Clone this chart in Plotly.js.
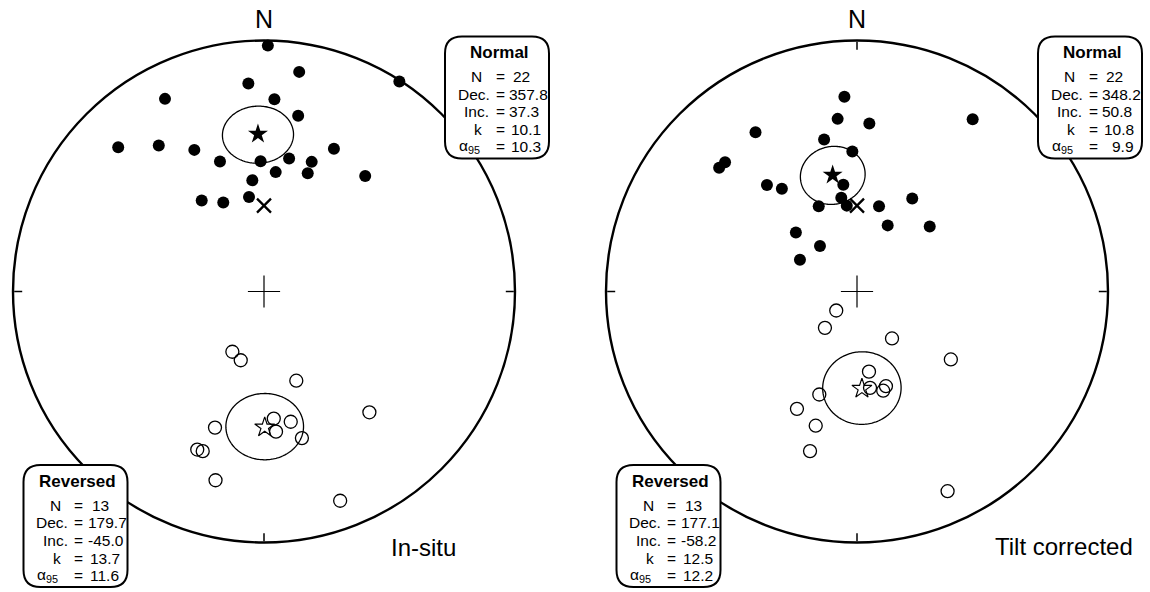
<!DOCTYPE html>
<html><head><meta charset="utf-8">
<script src="https://cdn.plot.ly/plotly-3.0.1.min.js"></script>
<style>html,body{margin:0;padding:0;background:#fff}#chart{width:1150px;height:592px}</style>
</head><body><div id="chart"></div>
<script>
// ---------------- data ----------------
const panelNames = ["In-situ", "Tilt corrected"];
const statLabels = ["N", "Dec.", "Inc.", "k", "α<sub>95</sub>"];

// site directions, in-situ
const decNormalInSitu = [0.9, 9.1, 355.7, 32.8, 332.8, 3.1, 11.0, 314.7, 324.2, 333.8, 341.3, 358.5, 10.7, 20.2, 26.1, 5.6, 20.3, 41.2, 354.0, 325.6, 335.4, 351.0];
const incNormalInSitu = [2.3, 12.4, 18.0, 0.5, 14.8, 24.3, 29.4, 19.4, 29.1, 37.2, 44.5, 46.9, 45.2, 44.2, 36.8, 50.5, 48.4, 38.7, 53.3, 53.8, 58.0, 58.7];
const decReversedInSitu = [207.7, 198.7, 160.1, 138.9, 199.8, 175.6, 168.4, 175.1, 165.5, 202.9, 201.0, 194.4, 160.0];
const incReversedInSitu = [-67.9, -66.4, -59.0, -36.3, -41.9, -47.9, -46.0, -43.3, -39.5, -32.2, -32.4, -23.4, -12.3];

// site directions, tilt corrected
const decNormalTilt = [356.3, 353.6, 4.2, 33.9, 327.5, 347.8, 358.1, 314.4, 311.9, 319.8, 323.8, 352.7, 350.5, 353.2, 335.8, 14.5, 30.7, 24.9, 48.2, 314.0, 320.8, 299.1];
const incNormalTilt = [23.3, 31.4, 33.3, 18.5, 25.7, 38.0, 43.5, 27.3, 27.1, 43.7, 48.0, 54.7, 58.9, 61.8, 59.5, 61.3, 54.5, 66.3, 58.1, 62.3, 71.0, 68.8];
const decReversedTilt = [227.5, 221.4, 143.3, 125.9, 171.5, 172.3, 163.0, 165.2, 200.1, 207.1, 197.1, 196.4, 155.6];
const incReversedTilt = [-80.9, -74.3, -71.0, -51.9, -63.6, -58.2, -57.6, -56.4, -54.0, -46.4, -43.4, -34.1, -13.7];

// Fisher statistics: [N, Dec, Inc, k, alpha95]
const statsNormalInSitu = [22, 357.8, 37.3, 10.1, 10.3];
const statsReversedInSitu = [13, 179.7, -45.0, 13.7, 11.6];
const statsNormalTilt = [22, 348.2, 50.8, 10.8, 9.9];
const statsReversedTilt = [13, 177.1, -58.2, 12.5, 12.2];

// reference (present field) direction
const refDec = [0, 0];
const refInc = [62, 62];

// ---------------- helpers ----------------
const W = 1150, H = 592;
const RAD = Math.PI / 180;
const px = x => x / W;
const py = y => 1 - y / H;
const eqa = inc => Math.SQRT2 * Math.sin((90 - Math.abs(inc)) / 2 * RAD);

function cone(dec, inc, a) {
  const D = dec * RAD, I = inc * RAD, A = a * RAD;
  const m = [Math.cos(I) * Math.cos(D), Math.cos(I) * Math.sin(D), Math.sin(I)];
  const u = [Math.cos(I - Math.PI / 2) * Math.cos(D), Math.cos(I - Math.PI / 2) * Math.sin(D), Math.sin(I - Math.PI / 2)];
  const v = [-Math.sin(D), Math.cos(D), 0];
  const r = [], th = [];
  for (let k = 0; k <= 180; k++) {
    const f = k * 2 * Math.PI / 180;
    const p = [0, 1, 2].map(i => Math.cos(A) * m[i] + Math.sin(A) * (Math.cos(f) * u[i] + Math.sin(f) * v[i]));
    const dd = Math.atan2(p[1], p[0]) / RAD;
    const ii = Math.asin(Math.max(-1, Math.min(1, p[2]))) / RAD;
    r.push(eqa(ii)); th.push(dd);
  }
  return {r, th};
}

const panels = [
  {sub: "polar", dN: decNormalInSitu, iN: incNormalInSitu, dR: decReversedInSitu, iR: incReversedInSitu,
   sN: statsNormalInSitu, sR: statsReversedInSitu, cx: 264},
  {sub: "polar2", dN: decNormalTilt, iN: incNormalTilt, dR: decReversedTilt, iR: incReversedTilt,
   sN: statsNormalTilt, sR: statsReversedTilt, cx: 857}
];

const traces = [];
panels.forEach((p, k) => {
  const base = {type: "scatterpolar", subplot: p.sub, hoverinfo: "skip", cliponaxis: false, showlegend: false};
  // center cross
  traces.push(Object.assign({}, base, {r: [0], theta: [0], mode: "markers",
    marker: {symbol: "cross-thin", size: 23, color: "black", line: {color: "black", width: 1.2}}}));
  // confidence circles
  const cN = cone(p.sN[1], p.sN[2], p.sN[4]);
  const cR = cone(p.sR[1], p.sR[2], p.sR[4]);
  traces.push(Object.assign({}, base, {r: cN.r, theta: cN.th, mode: "lines", line: {color: "black", width: 1.3}}));
  traces.push(Object.assign({}, base, {r: cR.r, theta: cR.th, mode: "lines", line: {color: "black", width: 1.3}}));
  // normal (lower hemisphere) site means
  traces.push(Object.assign({}, base, {r: p.iN.map(eqa), theta: p.dN, mode: "markers",
    marker: {symbol: "circle", size: 12, color: "black"}}));
  // reversed (upper hemisphere) site means
  traces.push(Object.assign({}, base, {r: p.iR.map(eqa), theta: p.dR, mode: "markers",
    marker: {symbol: "circle-open", size: 13, color: "black", line: {width: 1.3}}}));
  // reference direction
  traces.push(Object.assign({}, base, {r: [eqa(refInc[k])], theta: [refDec[k]], mode: "markers",
    marker: {symbol: "x-thin", size: 14, color: "black", line: {color: "black", width: 2.3}}}));
  // mean directions
  traces.push(Object.assign({}, base, {r: [eqa(p.sN[2])], theta: [p.sN[1]], mode: "markers",
    marker: {symbol: "star", size: 15, color: "black"}}));
  traces.push(Object.assign({}, base, {r: [eqa(p.sR[2])], theta: [p.sR[1]], mode: "markers",
    marker: {symbol: "star-open", size: 15, color: "black", line: {width: 1.2}}}));
});

function polarCfg(cx) {
  const R = 251, cy = 291.5;
  return {
    domain: {x: [px(cx - R), px(cx + R)], y: [py(cy + R), py(cy - R)]},
    bgcolor: "rgba(0,0,0,0)",
    radialaxis: {range: [0, 1], visible: false, showgrid: false, showline: false, showticklabels: false, ticks: ""},
    angularaxis: {rotation: 90, direction: "clockwise", showgrid: false, showticklabels: false,
      ticks: "inside", tickvals: [0, 90, 180, 270], ticklen: 8, tickwidth: 1.5, tickcolor: "black",
      linecolor: "black", linewidth: 2.4, showline: true}
  };
}

// ---------- stat boxes ----------
const shapes = [];
const annotations = [];
const FONT = "Liberation Sans, Arial, Helvetica, sans-serif";

function rrect(l, t, w, h, r) {
  const b = t + h, R = l + w;
  const P = (x, y) => px(x) + "," + py(y);
  return "M" + P(l + r, t) + " L" + P(R - r, t) + " Q" + P(R, t) + " " + P(R, t + r) +
    " L" + P(R, b - r) + " Q" + P(R, b) + " " + P(R - r, b) +
    " L" + P(l + r, b) + " Q" + P(l, b) + " " + P(l, b - r) +
    " L" + P(l, t + r) + " Q" + P(l, t) + " " + P(l + r, t) + " Z";
}

function fmt(v, i) { return i === 0 ? String(v) : v.toFixed(1); }

function statBox(title, stats, left, top) {
  const w = 104, h = 122;
  shapes.push({type: "path", xref: "paper", yref: "paper", path: rrect(left, top, w, h, 17),
    fillcolor: "white", line: {color: "black", width: 2}, layer: "above"});
  annotations.push({xref: "paper", yref: "paper", x: px(left + w / 2 + 2), y: py(top + 16), text: "<b>" + title + "</b>",
    showarrow: false, xanchor: "center", yanchor: "middle", font: {family: FONT, size: 17, color: "black"}});
  const lineY = [40, 57.6, 75.3, 93, 110.5];
  const labX = [24, 10.5, 17, 27, 11.5];
  const valX = [66, 62, 62, 64, 64];
  statLabels.forEach((lab, i) => {
    const y = py(top + lineY[i]);
    annotations.push({xref: "paper", yref: "paper", x: px(left + labX[i]), y: y, text: lab, showarrow: false,
      xanchor: "left", yanchor: "middle", font: {family: FONT, size: 15.5, color: "black"}});
    annotations.push({xref: "paper", yref: "paper", x: px(left + 48.5), y: y, text: "=", showarrow: false,
      xanchor: "left", yanchor: "middle", font: {family: FONT, size: 15.5, color: "black"}});
    const v = stats[i];
    const extra = (i > 0 && Math.abs(v) < 10) ? 8 : 0;
    annotations.push({xref: "paper", yref: "paper", x: px(left + valX[i] + extra), y: y, text: fmt(v, i), showarrow: false,
      xanchor: "left", yanchor: "middle", font: {family: FONT, size: 15.5, color: "black"}});
  });
}

statBox("Normal", statsNormalInSitu, 445, 36.5);
statBox("Reversed", statsReversedInSitu, 23.5, 465);
statBox("Normal", statsNormalTilt, 1038, 36.5);
statBox("Reversed", statsReversedTilt, 616.5, 465);

// N labels and panel names
panels.forEach(p => {
  annotations.push({xref: "paper", yref: "paper", x: px(p.cx), y: py(19), text: "N", showarrow: false,
    xanchor: "center", yanchor: "middle", font: {family: FONT, size: 25, color: "black"}});
});
annotations.push({xref: "paper", yref: "paper", x: px(389), y: py(547), text: panelNames[0], showarrow: false,
  xanchor: "left", yanchor: "middle", font: {family: FONT, size: 24, color: "black"}});
annotations.push({xref: "paper", yref: "paper", x: px(993), y: py(546), text: panelNames[1], showarrow: false,
  xanchor: "left", yanchor: "middle", font: {family: FONT, size: 24, color: "black"}});

const layout = {
  width: W, height: H,
  margin: {l: 0, r: 0, t: 0, b: 0},
  paper_bgcolor: "white",
  showlegend: false,
  polar: polarCfg(panels[0].cx),
  polar2: polarCfg(panels[1].cx),
  shapes: shapes,
  annotations: annotations
};

Plotly.newPlot("chart", traces, layout, {staticPlot: true, displayModeBar: false});
</script>
</body></html>
